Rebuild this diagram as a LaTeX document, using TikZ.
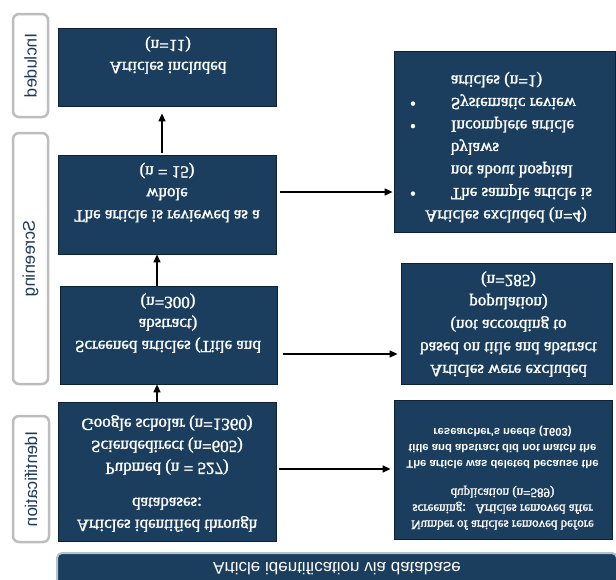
\documentclass[tikz,border=0pt]{standalone}
\usepackage{fontspec}
\setmainfont{Liberation Serif}[FakeBold=1.6]
\newfontfamily\lsans{Liberation Sans}
\newfontfamily\lsansb{Liberation Sans Bold}
\usetikzlibrary{arrows.meta}
\definecolor{boxblue}{HTML}{1B3E5E}
\definecolor{boxedge}{HTML}{0E2236}
\definecolor{labgray}{HTML}{BDBDBD}
\definecolor{labtext}{HTML}{1E3A5A}
\definecolor{banedge}{HTML}{B2C3CE}
\begin{document}
\begin{tikzpicture}[x=1pt,y=1pt,yscale=-1,transform shape,
  box/.style={draw=boxedge, line width=0.8pt, fill=boxblue, inner sep=0pt},
  btxt/.style={text=white, align=center, inner sep=0pt},
  bigfont/.style={font=\fontsize{17}{22}\selectfont},
  sidebox/.style={draw=labgray, line width=2.5pt, fill=white, rounded corners=6pt,
    inner sep=0pt, rotate=90, text=labtext, font=\lsans\fontsize{17}{20}\selectfont},
  arr/.style={-{Triangle[length=8pt,width=7pt]}, line width=1.4pt}]
\useasboundingbox (0,0) rectangle (616,579);

% banner
\node[draw=banedge, line width=2pt, fill=boxblue, rounded corners=5pt,
  minimum width=560pt, minimum height=32pt, text=white,
  font=\lsans\fontsize{17}{20}\selectfont] (ban) at (337,569) {Article identification via database};

% side labels
\node[sidebox, minimum width=103pt, minimum height=35pt] (sinc) at (30.5,65.5) {Included};
\node[sidebox, minimum width=251pt, minimum height=35pt] (sscr) at (30.5,258.5) {Screening};
\node[sidebox, minimum width=126pt, minimum height=36pt] (sid) at (31,479) {Identification};

% main boxes
\node[box, minimum width=218pt, minimum height=139pt] (idb) at (167,471.5) {};
\node[box, minimum width=217pt, minimum height=98pt] (scr) at (168.5,335) {};
\node[box, minimum width=218pt, minimum height=99pt] (rev) at (167,204.5) {};
\node[box, minimum width=218pt, minimum height=78pt] (inc) at (167,67) {};
\node[box, minimum width=221pt, minimum height=181pt] (ex4) at (504.5,141.5) {};
\node[box, minimum width=211pt, minimum height=121pt] (ex285) at (506.5,323.5) {};
\node[box, minimum width=218pt, minimum height=139pt] (rem) at (503,469.5) {};

% texts
\node[btxt, bigfont] (idbt) at (167,473.5) {Articles identified through\\ databases:\\[13pt] Pubmed (n = 527)\\ Sciendedirect (n=605)\\ Google scholar (n=1360)};
\node[btxt, bigfont] (scrt) at (168,323) {Screened articles (Title and\\ abstract)\\ (n=300)};
\node[btxt, bigfont] (revt) at (167,192.5) {The article is reviewed as a\\ whole\\ (n = 15)};
\node[btxt, bigfont] (inct) at (168,55) {Articles included\\ (n=11)};
\node[btxt, font=\fontsize{17}{22.5}\selectfont] (ex285t) at (508.5,324) {Articles were excluded\\ based on title and abstract\\ (not according to\\ population)\\ (n=285)};
\node[btxt, font=\fontsize{17}{22.5}\selectfont] (ex4t) at (501,147.5) {\begin{tabular}{@{}l@{\hspace{35pt}}l@{}}
\multicolumn{2}{@{}c@{}}{\hspace*{10pt}Articles excluded (n=4)}\\
\textbullet & The sample article is\\
 & not about hospital\\
 & bylaws\\
\textbullet & Incomplete article\\
\textbullet & Systematic review\\
 & articles (n=1)
\end{tabular}};
\node[btxt, font=\fontsize{13}{16}\selectfont] (remt) at (502.5,478) {Number of articles removed before\\ screening:\ \ \ Articles removed after\\ duplication (n=589)\\[12pt] {\lsansb\fontsize{11.3}{16}\selectfont The article was deleted because the}\\ {\lsansb\fontsize{11.3}{16}\selectfont title and abstract did not match the}\\ {\lsansb\fontsize{11.3}{16}\selectfont researcher's needs (1603)}};

% connectors
\draw[arr] (idb.south -| 157,0) -- (scr.north -| 157,0);
\draw[arr] (scr.south -| 157,0) -- (rev.north -| 157,0);
\draw[arr, shorten <=2pt, shorten >=7pt] (rev.south -| 162,0) -- (inc.north -| 162,0);
\draw[arr, shorten <=4pt, shorten >=1pt] (rev.east |- 0,192) -- (ex4.west |- 0,192);
\draw[arr, shorten <=6pt, shorten >=3pt] (scr.east |- 0,354) -- (ex285.west |- 0,354);
\draw[arr, shorten <=3pt, shorten >=3pt] (idb.east |- 0,469) -- (rem.west |- 0,469);
\end{tikzpicture}
\end{document}
